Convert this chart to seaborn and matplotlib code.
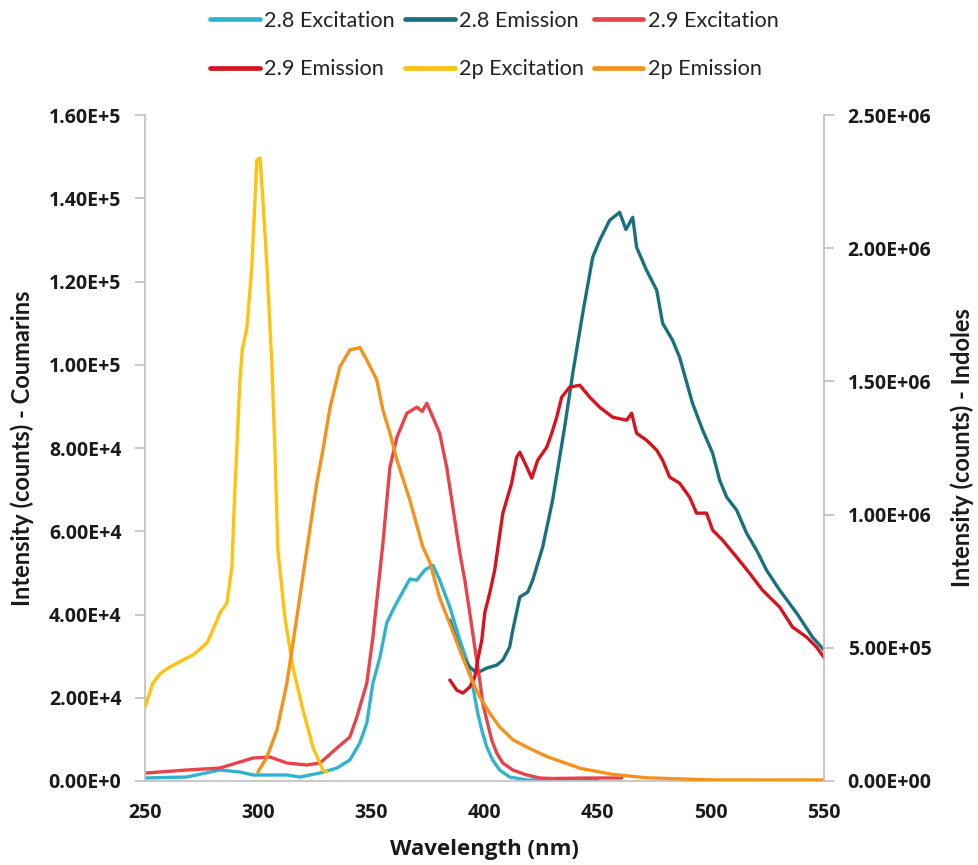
import matplotlib
matplotlib.use("Agg")
import matplotlib.pyplot as plt
import seaborn as sns
import pandas as pd
from matplotlib.lines import Line2D

# ---------------- data ----------------
ex28_x = [250, 268.5, 283.1, 291.9, 297.7, 312.7, 318.4, 327.3, 334.8, 340.5, 344.9, 348.0,
          350.7, 353.8, 356.8, 359.5, 362.6, 367.0, 370.1, 373.6, 377.2, 380.2, 384.7, 389.1,
          392.2, 394.4, 395.7, 397.0, 398.8, 401.0, 403.6, 406.7, 411.1, 418.7, 450]
ex28_y = [720, 960, 2640, 2160, 1440, 1440, 960, 1920, 3120, 5040, 9120, 13930,
          23530, 29770, 37940, 41060, 44180, 48500, 48260, 50660, 51860, 48260, 41780, 33850,
          29050, 24250, 20170, 16330, 12250, 8160, 5040, 2640, 960, 240, 100]

em28_x = [384.7, 387.7, 390.4, 393.5, 396.6, 401.0, 405.4, 408.1, 411.1, 412.5, 415.6, 419.1,
          421.3, 425.7, 430.1, 435.4, 439.0, 443.4, 447.8, 450.9, 455.3, 459.7, 462.5, 465.5,
          467.2, 471.6, 476.1, 478.7, 483.1, 486.2, 491.9, 496.4, 500.8, 503.9, 507.0, 511.4,
          515.8, 520.2, 524.6, 530.4, 537.9, 544.9, 550.0]
em28_y = [38660, 33850, 29770, 27370, 25930, 27130, 27850, 29050, 32170, 36250, 44180, 45380,
          48260, 56180, 67470, 85000, 97960, 112370, 125810, 129900, 134700, 136620, 132500, 135420,
          128210, 122690, 117890, 109970, 105880, 101800, 90760, 84280, 78750, 72270, 68190, 65070,
          59540, 55460, 50660, 45860, 40340, 34570, 31450]

ex29_x = [250, 268.5, 283.1, 297.7, 305.2, 312.7, 321.5, 327.3, 334.8, 340.5, 343.6, 348.0,
          350.7, 355.1, 358.2, 361.3, 365.7, 370.1, 372.5, 374.5, 377.2, 380.2, 383.3, 386.0,
          389.1, 391.3, 393.5, 395.7, 397.9, 399.2, 401.0, 403.2, 405.4, 408.1, 412.5, 418.7,
          424.4, 430.0, 445.0, 460.6]
ex29_y = [1900, 2640, 3120, 5520, 5760, 4320, 3840, 4320, 7920, 10560, 15370, 23530,
          34570, 57000, 75390, 82590, 88360, 89800, 88800, 90760, 87400, 83550, 75390, 65790,
          54740, 48260, 40340, 32170, 24250, 18730, 14650, 9840, 6720, 4320, 2640, 1440,
          720, 600, 720, 720]

em29_x = [384.7, 387.7, 390.4, 393.5, 395.7, 397.0, 398.8, 400.1, 402.3, 404.5, 408.1, 412.0,
          414.2, 415.6, 418.7, 420.9, 423.5, 427.5, 429.7, 431.9, 434.1, 437.6, 442.1, 446.5,
          450.9, 456.6, 462.8, 465.0, 467.2, 471.6, 476.1, 478.7, 481.8, 486.2, 490.6, 493.7,
          498.1, 500.8, 505.2, 511.4, 517.1, 522.8, 530.4, 536.1, 542.3, 546.7, 550.2]
em29_y = [24250, 21850, 21130, 22570, 24970, 29050, 33850, 40340, 45140, 50660, 64350, 71550,
          77790, 78990, 75390, 72750, 77070, 80190, 83550, 87400, 92200, 94600, 95080, 92200,
          89800, 87400, 86680, 88360, 83550, 81870, 79470, 77070, 72990, 71550, 68190, 64350,
          64350, 60270, 57860, 53780, 49940, 45860, 41780, 36980, 34570, 32170, 29530]

ex2p_x = [250, 253.5, 257.0, 261.0, 266.8, 271.2, 277.4, 280.0, 283.1, 286.2, 288.4, 289.5,
          290.6, 291.9, 293.0, 295.0, 297.2, 298.6, 299.4, 300.8, 302.1, 303.9, 306.1, 307.4,
          308.7, 311.8, 315.3, 319.8, 324.2, 328.6, 330.4]
ex2p_y = [277800, 367900, 405000, 428000, 454200, 473000, 518100, 566900, 630700, 668200, 803400, 1050000,
          1250000, 1500000, 1620000, 1700000, 1929600, 2181100, 2331200, 2338800, 2181100, 1929600, 1554200, 1242600,
          867200, 615700, 428000, 266500, 127600, 41300, 33800]

em2p_x = [299.9, 303.9, 308.3, 312.7, 317.1, 321.5, 325.9, 328.6, 331.7, 336.1, 340.5, 344.9,
          348.0, 352.4, 355.1, 358.2, 361.3, 367.0, 372.7, 375.8, 380.2, 384.7, 389.1, 393.5,
          397.9, 402.3, 406.7, 412.5, 420.0, 427.5, 442.1, 456.6, 471.6, 500.8, 550.0]
em2p_y = [33800, 90100, 191500, 367900, 615700, 867200, 1118700, 1242600, 1400000, 1554200, 1618000, 1627000,
          1580400, 1505400, 1392700, 1306400, 1205000, 1054900, 880000, 822100, 687000, 589400, 491800, 397900,
          315300, 255300, 202700, 155000, 122000, 92000, 48000, 25000, 12000, 4000, 3750]

series_names = ["2.8 Excitation", "2.8 Emission", "2.9 Excitation",
                "2.9 Emission", "2p Excitation", "2p Emission"]
series_colors = ["#2FB4D0", "#19707F", "#E8424B", "#D6131E", "#FFC20E", "#F5921B"]

x_ticks = [250, 300, 350, 400, 450, 500, 550]
left_ticks = [0, 20000, 40000, 60000, 80000, 100000, 120000, 140000, 160000]
left_tick_labels = ["0.00E+0", "2.00E+4", "4.00E+4", "6.00E+4", "8.00E+4",
                    "1.00E+5", "1.20E+5", "1.40E+5", "1.60E+5"]
right_ticks = [0, 500000, 1000000, 1500000, 2000000, 2500000]
right_tick_labels = ["0.00E+00", "5.00E+05", "1.00E+06", "1.50E+06", "2.00E+06", "2.50E+06"]

x_label = "Wavelength (nm)"
left_label = "Intensity (counts) - Coumarins"
right_label = "Intensity (counts) - Indoles"

# ---------------- build tables ----------------
def frame(name, xs, ys):
    return pd.DataFrame({"wl": xs, "val": ys, "series": name})

df_left = pd.concat([frame(series_names[0], ex28_x, ex28_y),
                     frame(series_names[1], em28_x, em28_y),
                     frame(series_names[2], ex29_x, ex29_y),
                     frame(series_names[3], em29_x, em29_y)], ignore_index=True)
df_right = pd.concat([frame(series_names[4], ex2p_x, ex2p_y),
                      frame(series_names[5], em2p_x, em2p_y)], ignore_index=True)
palette = dict(zip(series_names, series_colors))

# ---------------- style ----------------
sns.set_style("white")
plt.rcParams["font.family"] = ["Open Sans", "DejaVu Sans"]

W, H = 979, 865
fig = plt.figure(figsize=(W / 100, H / 100), dpi=100)
L, R, T, B = 145, 824, 115, 781
ax = fig.add_axes([L / W, 1 - B / H, (R - L) / W, (B - T) / H])
ax2 = ax.twinx()

lw = 2.4
sns.lineplot(data=df_left, x="wl", y="val", hue="series", palette=palette,
             estimator=None, linewidth=lw, ax=ax, legend=False)
sns.lineplot(data=df_right, x="wl", y="val", hue="series", palette=palette,
             estimator=None, linewidth=lw, ax=ax2, legend=False)

ax.set_xlim(250, 550)
ax.set_ylim(0, 160000)
ax2.set_ylim(0, 2500000)
ax.set_xticks(x_ticks)
ax.set_xticklabels([str(v) for v in x_ticks])
ax.set_yticks(left_ticks)
ax.set_yticklabels(left_tick_labels)
ax2.set_yticks(right_ticks)
ax2.set_yticklabels(right_tick_labels)

spine_col = "#BFBFBF"
for a in (ax, ax2):
    for s in a.spines.values():
        s.set_color(spine_col)
        s.set_linewidth(1.2)
    a.spines["top"].set_visible(False)
ax.spines["right"].set_visible(False)
ax2.spines["left"].set_visible(False)
ax2.spines["bottom"].set_visible(False)

ax.tick_params(axis="x", direction="out", length=7, width=1.2, color=spine_col,
               pad=9, labelsize=14, labelcolor="#1A1A1A")
ax.tick_params(axis="y", direction="out", length=7, width=1.2, color=spine_col,
               pad=10, labelsize=14, labelcolor="#1A1A1A")
ax2.tick_params(axis="y", direction="out", length=7, width=1.2, color=spine_col,
                pad=10, labelsize=14, labelcolor="#1A1A1A")
for lab in ax.get_xticklabels() + ax.get_yticklabels() + ax2.get_yticklabels():
    lab.set_fontweight("bold")

ax.set_xlabel(x_label, fontsize=16, fontweight="bold", color="#1A1A1A")
ax.xaxis.set_label_coords(0.5, (B - 850) / (B - T))
ax.xaxis.label.set_va("center")
ax.set_ylabel(left_label, fontsize=17, fontweight="bold", color="#1A1A1A",
              family=["Lato", "DejaVu Sans"])
ax.yaxis.label.set_va("center")
ax.yaxis.set_label_coords((22 - L) / (R - L), 0.5)
ax2.set_ylabel(right_label, fontsize=17, fontweight="bold", color="#1A1A1A",
               family=["Lato", "DejaVu Sans"], rotation=90)
ax2.yaxis.label.set_va("center")
ax2.yaxis.set_label_coords((962 - L) / (R - L), 0.5)

# ---------------- legend ----------------
handles = [Line2D([0], [0], color=c, lw=3.4) for c in series_colors]
order = [0, 3, 1, 4, 2, 5]
leg = fig.legend([handles[i] for i in order], [series_names[i] for i in order],
                 loc="upper center", bbox_to_anchor=(0.505, 1.01), ncol=3,
                 frameon=False, handlelength=2.3, handletextpad=0.2,
                 columnspacing=0.45, labelspacing=1.32,
                 prop={"family": ["Lato", "DejaVu Sans"], "size": 15.6})
for t in leg.get_texts():
    t.set_color("#222222")

fig.savefig("out.png", dpi=100)
